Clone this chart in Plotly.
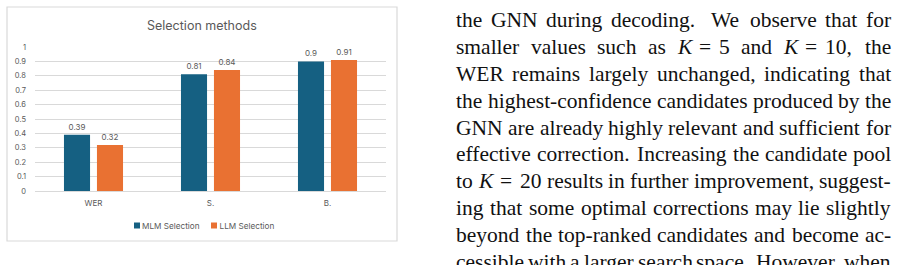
import glob, struct
import plotly.graph_objects as go

# ---------------- data ----------------
categories = ["WER", "S.", "B."]
mlm_selection = [0.39, 0.81, 0.90]
llm_selection = [0.32, 0.84, 0.91]
series_names = ["MLM Selection", "LLM Selection"]
y_ticks = [0, 0.1, 0.2, 0.3, 0.4, 0.5, 0.6, 0.7, 0.8, 0.9, 1]
y_tick_labels = ["0", "0.1", "0.2", "0.3", "0.4", "0.5", "0.6", "0.7", "0.8", "0.9", "1"]
chart_title = "Selection methods"

text_lines = [
    "the GNN during decoding. We observe that for",
    "smaller values such as $K$ = 5 and $K$ = 10, the",
    "WER remains largely unchanged, indicating that",
    "the highest-confidence candidates produced by the",
    "GNN are already highly relevant and sufficient for",
    "effective correction. Increasing the candidate pool",
    "to $K$ = 20 results in further improvement, suggest-",
    "ing that some optimal corrections may lie slightly",
    "beyond the top-ranked candidates and become ac-",
    "cessible with a larger search space. However, when",
]

# ---------------- colours / fonts ----------------
BLUE = "#156082"
ORANGE = "#E97132"
GRAY_TXT = "#595959"
GRID = "#d9d9d9"
CHART_FONT = "Inter"
BODY_FONT = "Liberation Serif"

# ---------------- geometry ----------------
W, H = 900, 265
PL, PR, PT, PB = 35, 386, 47, 191  # plot area in pixels
ML, MR, MT, MB = PL, W - PR, PT, H - PB


def px(x):
    return (x - PL) / (PR - PL)


def py(y):
    return (PB - y) / (PB - PT)


# ---------------- font metrics (for justified body text) ----------------
def load_font(names):
    path = None
    for n in names:
        hits = glob.glob("/usr/share/fonts/**/" + n, recursive=True) + \
            glob.glob("/usr/local/share/fonts/**/" + n, recursive=True)
        if hits:
            path = hits[0]
            break
    if path is None:
        return None
    try:
        data = open(path, "rb").read()
        num = struct.unpack(">H", data[4:6])[0]
        tables = {}
        for i in range(num):
            tag, cs, off, ln = struct.unpack(">4sIII", data[12 + 16 * i:28 + 16 * i])
            tables[tag.decode("latin1")] = off
        upem = struct.unpack(">H", data[tables["head"] + 18:tables["head"] + 20])[0]
        hh = tables["hhea"]
        nhm = struct.unpack(">H", data[hh + 34:hh + 36])[0]
        hm = tables["hmtx"]
        adv = [struct.unpack(">H", data[hm + 4 * i:hm + 4 * i + 2])[0] for i in range(nhm)]
        cm = tables["cmap"]
        nsub = struct.unpack(">H", data[cm + 2:cm + 4])[0]
        mapping = {}
        for i in range(nsub):
            pid, eid, off = struct.unpack(">HHI", data[cm + 4 + 8 * i:cm + 12 + 8 * i])
            st = cm + off
            fmt = struct.unpack(">H", data[st:st + 2])[0]
            if fmt != 4 or pid not in (0, 3):
                continue
            s2 = struct.unpack(">H", data[st + 6:st + 8])[0]
            seg = s2 // 2
            ends = struct.unpack(">%dH" % seg, data[st + 14:st + 14 + s2])
            starts = struct.unpack(">%dH" % seg, data[st + 16 + s2:st + 16 + 2 * s2])
            deltas = struct.unpack(">%dh" % seg, data[st + 16 + 2 * s2:st + 16 + 3 * s2])
            rp = st + 16 + 3 * s2
            roffs = struct.unpack(">%dH" % seg, data[rp:rp + s2])
            for s in range(seg):
                for c in range(starts[s], min(ends[s], 0x17F) + 1):
                    if roffs[s] == 0:
                        g = (c + deltas[s]) & 0xFFFF
                    else:
                        a = rp + 2 * s + roffs[s] + 2 * (c - starts[s])
                        g = struct.unpack(">H", data[a:a + 2])[0]
                        if g:
                            g = (g + deltas[s]) & 0xFFFF
                    mapping[c] = g
            break
        return (upem, adv, mapping)
    except Exception:
        return None


REG = load_font(["LiberationSerif-Regular.ttf"])
ITA = load_font(["LiberationSerif-Italic.ttf"])


def text_width(txt, size, italic=False):
    f = ITA if italic else REG
    if f is None:
        f = REG
    if f is None:
        return len(txt) * 0.46 * size
    upem, adv, mapping = f
    w = 0
    for ch in txt:
        g = mapping.get(ord(ch), 0)
        w += adv[min(g, len(adv) - 1)]
    return w * size / upem


TX0, TX1 = 455, 890
LINE_W = TX1 - TX0
BASE0, STEP = 27.3, 26.9


def tokens(line):
    out = []
    for t in line.split():
        it = t.startswith("$")
        out.append((t.strip("$"), it))
    return out


def gaps_for(toks, size):
    gs = []
    for i in range(len(toks) - 1):
        a, b = toks[i][0], toks[i + 1][0]
        if a == "=" or b == "=":
            gs.append((0.36 * size, 0.0, 0.0))
        elif a.endswith("."):
            gs.append((0.33 * size, 0.36 * size, 0.03 * size))
        elif a.endswith(","):
            gs.append((0.25 * size, 0.15 * size, 0.06 * size))
        else:
            gs.append((0.25 * size, 0.12 * size, 0.08 * size))
    return gs


# choose body font size (capped so that every line fits)
TARGET = 21.5
max_nat = 0
for ln in text_lines:
    tk = tokens(ln)
    nat = sum(text_width(t, 1, it) for t, it in tk) + 0.2 * (len(tk) - 1)
    max_nat = max(max_nat, nat)
BODY_SIZE = min(TARGET, LINE_W / max_nat)

annotations = []
for li, ln in enumerate(text_lines):
    tk = tokens(ln)
    ws = [text_width(t, BODY_SIZE, it) for t, it in tk]
    gs = gaps_for(tk, BODY_SIZE)
    natural = sum(ws) + sum(g[0] for g in gs)
    extra = LINE_W - natural
    if extra >= 0:
        tot = sum(g[1] for g in gs) or 1
        real = [g[0] + extra * g[1] / tot for g in gs]
    else:
        tot = sum(g[2] for g in gs) or 1
        real = [g[0] + extra * g[2] / tot for g in gs]
    x = TX0
    baseline = BASE0 + li * STEP
    ycen = baseline - 0.34 * BODY_SIZE
    for i, (t, it) in enumerate(tk):
        annotations.append(dict(
            text=("<i>%s</i>" % t) if it else t,
            x=px(x), y=py(ycen), xref="paper", yref="paper",
            xanchor="left", yanchor="middle", showarrow=False, borderpad=0,
            font=dict(family=BODY_FONT, size=BODY_SIZE, color="#111111"),
        ))
        if i < len(real):
            x += ws[i] + real[i]

# chart title
annotations.append(dict(
    text=chart_title, x=px(202), y=py(25), xref="paper", yref="paper",
    xanchor="center", yanchor="middle", showarrow=False,
    font=dict(family=CHART_FONT, size=12.5, color=GRAY_TXT),
))

LEG_Y = 225.5
LEG_TEXT_X = [142, 219.5]
LEG_SQ_X = [134, 211]
LEG_OFFSET = 40  # distance from legend box left edge to its text

fig = go.Figure()
shapes = [dict(type="rect", xref="paper", yref="paper",
               x0=px(7), x1=px(397), y0=py(7), y1=py(241),
               line=dict(color=GRID, width=1.2), fillcolor="rgba(0,0,0,0)", layer="below")]
legend_ids = ["legend", "legend2"]
for k, (name, vals, col) in enumerate([(series_names[0], mlm_selection, BLUE),
                                        (series_names[1], llm_selection, ORANGE)]):
    fig.add_trace(go.Bar(
        x=categories, y=vals, name=name, marker=dict(color=col, line=dict(width=0)),
        texttemplate="%{y}", textposition="outside", cliponaxis=False,
        textfont=dict(family=CHART_FONT, size=8, color=GRAY_TXT),
        showlegend=False,
    ))
    fig.add_trace(go.Scatter(
        x=[None], y=[None], mode="markers", name=name, legend=legend_ids[k],
        marker=dict(symbol="square", size=6, color="rgba(0,0,0,0)"), showlegend=True,
    ))
    shapes.append(dict(type="rect", xref="paper", yref="paper",
                       x0=px(LEG_SQ_X[k]), x1=px(LEG_SQ_X[k] + 6),
                       y0=py(LEG_Y - 3), y1=py(LEG_Y + 3),
                       line=dict(width=0), fillcolor=col))

leg_common = dict(orientation="h", yanchor="middle", xanchor="left",
                  font=dict(family=CHART_FONT, size=8.2, color=GRAY_TXT),
                  bgcolor="rgba(0,0,0,0)", itemwidth=30, borderwidth=0)

fig.update_layout(
    width=W, height=H, autosize=False,
    margin=dict(l=ML, r=MR, t=MT, b=MB, pad=0),
    paper_bgcolor="white", plot_bgcolor="white",
    barmode="group", bargap=0.436, bargroupgap=0.21,
    showlegend=True,
    legend=dict(x=px(LEG_TEXT_X[0] - LEG_OFFSET), y=py(LEG_Y), **leg_common),
    legend2=dict(x=px(LEG_TEXT_X[1] - LEG_OFFSET), y=py(LEG_Y), **leg_common),
    annotations=annotations,
    shapes=shapes,
    font=dict(family=CHART_FONT, color=GRAY_TXT),
)
fig.update_xaxes(showgrid=False, showline=False, ticks="", zeroline=False,
                 tickfont=dict(family=CHART_FONT, size=8, color=GRAY_TXT),
                 ticklabelstandoff=6)
fig.update_yaxes(range=[0, 1], tickvals=y_ticks, ticktext=y_tick_labels,
                 showgrid=True, gridcolor=GRID, gridwidth=1, zeroline=True,
                 zerolinecolor=GRID, zerolinewidth=1, showline=False, ticks="",
                 tickfont=dict(family=CHART_FONT, size=7.5, color=GRAY_TXT),
                 ticklabelstandoff=8)

fig.write_html("out.html")
